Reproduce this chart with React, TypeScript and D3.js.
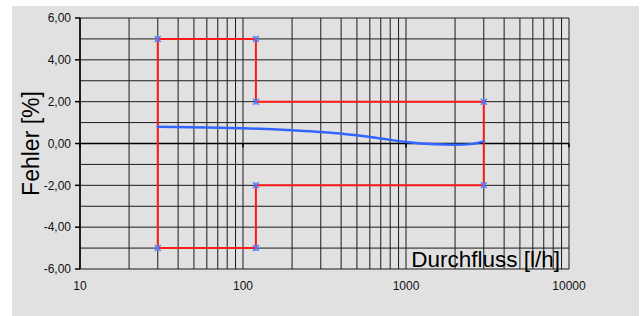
import React from "react";
import * as d3 from "d3";

// tolerance limits (red outline) and measured error curve (blue)
const limitFlow = [30, 120, 120, 3000, 3000, 120, 120, 30, 30];
const limitError = [5, 5, 2, 2, -2, -2, -5, -5, 5];
const markerFlow = [30, 120, 120, 3000, 3000, 120, 120, 30];
const markerError = [5, 5, 2, 2, -2, -2, -5, -5];

const curveFlow = [30, 60, 100, 200, 300, 500, 700, 1000, 1500, 2000, 2500, 3000];
const curveError = [0.8, 0.77, 0.73, 0.63, 0.55, 0.39, 0.24, 0.07, -0.04, -0.06, -0.03, 0.1];

const xTicks = [10, 100, 1000, 10000];
const yTicks = [6, 4, 2, 0, -2, -4, -6];

const W = 642;
const H = 316;
const margin = { left: 80, right: 73, top: 18, bottom: 47 };
const font = "'Liberation Sans', Arial, sans-serif";

const App = () => {
  const x = d3.scaleLog().domain([10, 10000]).range([margin.left, W - margin.right]);
  const y = d3.scaleLinear().domain([-6, 6]).range([H - margin.bottom, margin.top]);

  // minor log gridlines 20..90, 200..900, ...
  const xGrid: number[] = [];
  for (let dec = 10; dec < 10000; dec *= 10) {
    for (let k = 1; k < 10; k++) xGrid.push(dec * k);
  }
  xGrid.push(10000);
  const yGrid = d3.range(-6, 7, 1);

  const limitLine = d3
    .line<number>()
    .x((_, i) => x(limitFlow[i]))
    .y((d) => y(d));

  const errLine = d3
    .line<number>()
    .x((_, i) => x(curveFlow[i]))
    .y((d) => y(d))
    .curve(d3.curveMonotoneX);

  const fmt = (v: number) => d3.format(".2f")(v).replace(".", ",").replace("−", "-");

  return (
    <div style={{ position: "absolute", left: 0, top: 0 }}>
      <svg width={W} height={H} style={{ display: "block" }}>
        <rect x={0} y={0} width={W} height={H} fill="#ffffff" />
        <rect x={12} y={6} width={627} height={310} fill="#e1e1e1" />

        {/* grid */}
        <g stroke="#1a1a1a" strokeWidth={1}>
          {xGrid.map((v) => (
            <line key={"gx" + v} x1={x(v)} x2={x(v)} y1={y(6)} y2={y(-6)} />
          ))}
          {yGrid.map((v) => (
            <line key={"gy" + v} x1={x(10)} x2={x(10000)} y1={y(v)} y2={y(v)} />
          ))}
        </g>

        {/* axes */}
        <g stroke="#000" strokeWidth={1.5}>
          <line x1={x(10)} x2={x(10)} y1={y(6)} y2={y(-6)} />
          <line x1={x(10)} x2={x(10000)} y1={y(0)} y2={y(0)} />
          {yTicks.map((v) => (
            <line key={"ty" + v} x1={x(10) - 5} x2={x(10)} y1={y(v)} y2={y(v)} />
          ))}
          {xTicks.map((v) => (
            <line key={"tx" + v} x1={x(v)} x2={x(v)} y1={y(0)} y2={y(0) + 4} />
          ))}
        </g>

        {yTicks.map((v) => (
          <text
            key={"ly" + v}
            x={x(10) - 9}
            y={y(v)}
            dy="0.35em"
            textAnchor="end"
            fontFamily={font}
            fontSize={12}
            fill="#111"
          >
            {fmt(v)}
          </text>
        ))}
        {xTicks.map((v) => (
          <text
            key={"lx" + v}
            x={x(v)}
            y={y(-6) + 17}
            dy="0.35em"
            textAnchor="middle"
            fontFamily={font}
            fontSize={12}
            fill="#111"
          >
            {v}
          </text>
        ))}

        {/* tolerance limits */}
        <path d={limitLine(limitError) || ""} fill="none" stroke="#ff1a1a" strokeWidth={2} />

        {/* error curve */}
        <path
          d={errLine(curveError) || ""}
          fill="none"
          stroke="#3366ff"
          strokeWidth={2.5}
          strokeLinecap="round"
        />

        {/* star markers */}
        <g stroke="#5577ff" strokeWidth={1.3}>
          {markerFlow.map((f, i) => {
            const cx = x(f);
            const cy = y(markerError[i]);
            return (
              <g key={"m" + i}>
                <line x1={cx - 3} x2={cx + 3} y1={cy - 3} y2={cy + 3} />
                <line x1={cx - 3} x2={cx + 3} y1={cy + 3} y2={cy - 3} />
                <line x1={cx} x2={cx} y1={cy - 3} y2={cy + 3} />
              </g>
            );
          })}
        </g>

        <text
          transform={`translate(39, ${y(0)}) rotate(-90)`}
          textAnchor="middle"
          fontFamily={font}
          fontSize={23}
          fill="#000"
        >
          Fehler [%]
        </text>
        <text
          x={560}
          y={267}
          textAnchor="end"
          fontFamily={font}
          fontSize={22.5}
          fill="#000"
        >
          Durchfluss [l/h]
        </text>
      </svg>
    </div>
  );
};

export default App;
